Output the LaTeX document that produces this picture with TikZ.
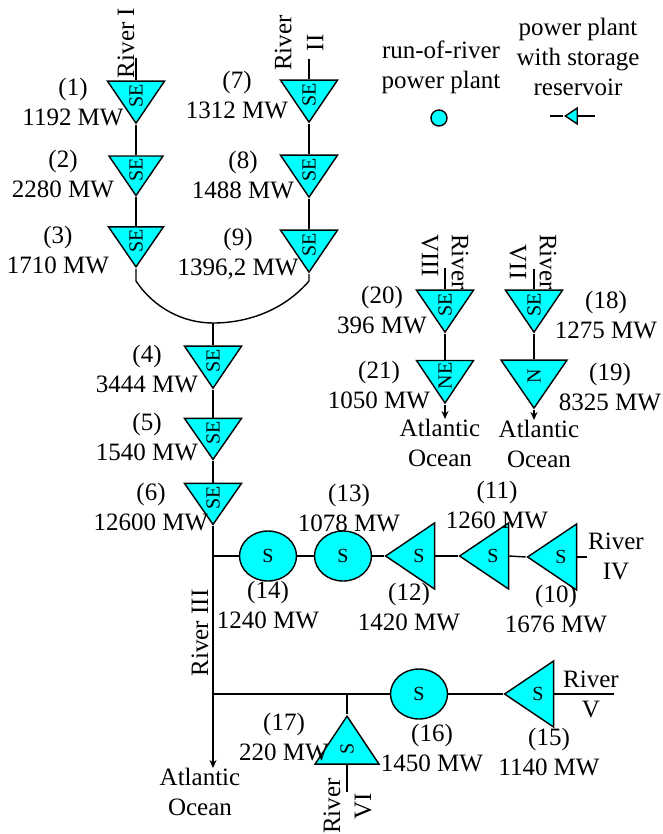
\documentclass[tikz,border=0pt]{standalone}
\usepackage{fontspec}
\setmainfont{Liberation Serif}
\usetikzlibrary{shapes.geometric,arrows.meta}
\definecolor{plantCyan}{RGB}{0,255,255}

\tikzstyle{plantBase} = [isosceles triangle, isosceles triangle stretches, inner sep=0pt, draw=black, fill=plantCyan, line width=1.4pt, font=\fontsize{20}{20}\selectfont]
\tikzstyle{plantDown} = [plantBase, shape border rotate=-90, minimum width=57pt, minimum height=42pt]
\tikzstyle{plantBig} = [plantBase, shape border rotate=-90, minimum width=66pt, minimum height=48pt]
\tikzstyle{plantLeft} = [plantBase, shape border rotate=180, minimum width=66pt, minimum height=49pt]
\tikzstyle{plantUp} = [plantBase, shape border rotate=90, minimum width=64pt, minimum height=48pt]
\tikzstyle{plantRun} = [ellipse, inner sep=0pt, minimum width=57pt, minimum height=50pt, draw=black, fill=plantCyan, line width=1.4pt, font=\fontsize{20}{20}\selectfont]
\tikzstyle{plantLabel} = [align=center, inner sep=0pt]
\tikzstyle{river} = [line width=1.4pt]
\tikzstyle{riverArrow} = [river,->,>={Stealth[length=8pt,width=7pt]}]

\begin{document}
\begin{tikzpicture}[x=1pt, y=-1pt, node distance=72pt, font=\fontsize{25}{30}\selectfont]
    \useasboundingbox (0,0) rectangle (662,834);

    % rivers I, II, III
    \node (p1)[plantDown] at (136,96) {\rotatebox{90}{SE}};
    \node (p2)[plantDown, below of=p1, yshift=-2pt, minimum width=54pt, minimum height=39pt] {\rotatebox{90}{SE}};
    \node (p3)[plantDown, below of=p2, yshift=1pt, minimum width=55pt, minimum height=40pt] {\rotatebox{90}{SE}};
    \node (p7)[plantDown, right of=p1, xshift=101pt, yshift=1pt] {\rotatebox{90}{SE}};
    \node (p8)[plantDown, below of=p7, yshift=-3pt] {\rotatebox{90}{SE}};
    \node (p9)[plantDown, below of=p8, yshift=-3pt] {\rotatebox{90}{SE}};
    \node (p4)[plantDown, below of=p3, xshift=77pt, yshift=-48pt] {\rotatebox{90}{SE}};
    \node (p5)[plantDown, below of=p4, minimum height=41pt] {\rotatebox{90}{SE}};
    \node (p6)[plantDown, below of=p5, yshift=7pt, minimum height=41pt] {\rotatebox{90}{SE}};

    % rivers VII, VIII
    \node (p20)[plantDown] at (445,305) {\rotatebox{90}{SE}};
    \node (p21)[plantDown, below of=p20, yshift=1pt] {\rotatebox{90}{NE}};
    \node (p18)[plantDown, right of=p20, xshift=17pt] {\rotatebox{90}{SE}};
    \node (p19)[plantBig, below of=p18, yshift=1pt] {\rotatebox{90}{N}};

    % river IV
    \node (p14)[plantRun, below of=p6, xshift=55pt, yshift=14pt] {S};
    \node (p13)[plantRun, right of=p14, xshift=3pt] {S};
    \node (p12)[plantLeft, right of=p13, xshift=4pt] {S};
    \node (p11)[plantLeft, right of=p12, xshift=2pt] {S};
    \node (p10)[plantLeft, right of=p11, xshift=-4pt, yshift=-1pt] {S};

    % rivers V, VI
    \node (p16)[plantRun, below of=p12, yshift=-66pt] {S};
    \node (p15)[plantLeft, right of=p16, xshift=47pt] {S};
    \node (p17)[plantUp, left of=p16, yshift=-55pt] {\rotatebox{90}{S}};

    % legend
    \node (legCircle)[plantRun, minimum width=16pt, minimum height=16pt] at (439,118) {};
    \node (legTri)[plantLeft, minimum width=16pt, minimum height=12pt] at (573,116) {};
    \coordinate (legLeft) at (550,116);
    \coordinate (legRight) at (595,116);
    \node (legRun)[plantLabel, above of=legCircle, xshift=2pt, yshift=-21.5pt] {run-of-river\\power plant};
    \node (legStore)[plantLabel, above of=legTri, xshift=5pt, yshift=-12.5pt] {power plant\\with storage\\reservoir};

    % capacities
    \node (lab1)[plantLabel, left of=p1, xshift=9pt, yshift=-6pt] {(1)\\1192 MW};
    \node (lab2)[plantLabel, left of=p2, xshift=-1pt, yshift=-4pt] {(2)\\2280 MW};
    \node (lab3)[plantLabel, left of=p3, xshift=-6pt, yshift=-9pt] {(3)\\1710 MW};
    \node (lab7)[plantLabel, left of=p7] {(7)\\1312 MW};
    \node (lab8)[plantLabel, left of=p8, xshift=6pt, yshift=-5pt] {(8)\\1488 MW};
    \node (lab9)[plantLabel, left of=p9, xshift=1pt, yshift=-9pt] {(9)\\1396,2 MW};
    \node (lab4)[plantLabel, left of=p4, xshift=6pt, yshift=-8pt] {(4)\\3444 MW};
    \node (lab5)[plantLabel, left of=p5, xshift=6pt, yshift=-4.5pt] {(5)\\1540 MW};
    \node (lab6)[plantLabel, left of=p6, xshift=10pt, yshift=-9.5pt] {(6)\\12600 MW};
    \node (lab20)[plantLabel, left of=p20, xshift=9pt, yshift=-5pt] {(20)\\396 MW};
    \node (lab21)[plantLabel, left of=p21, xshift=6pt, yshift=-9pt] {(21)\\1050 MW};
    \node (lab18)[plantLabel, right of=p18, yshift=-10pt] {(18)\\1275 MW};
    \node (lab19)[plantLabel, right of=p19, xshift=4pt, yshift=-11pt] {(19)\\8325 MW};
    \node (lab13)[plantLabel, above of=p13, xshift=6pt, yshift=-24.5pt] {(13)\\1078 MW};
    \node (lab11)[plantLabel, above of=p11, xshift=4pt, yshift=-21pt] {(11)\\1260 MW};
    \node (lab14)[plantLabel, below of=p14, yshift=22.5pt] {(14)\\1240 MW};
    \node (lab12)[plantLabel, below of=p12, xshift=-10pt, yshift=21pt] {(12)\\1420 MW};
    \node (lab10)[plantLabel, below of=p10, xshift=-5pt, yshift=20pt] {(10)\\1676 MW};
    \node (lab16)[plantLabel, below of=p16, xshift=13pt, yshift=17.5pt] {(16)\\1450 MW};
    \node (lab15)[plantLabel, below of=p15, xshift=11pt, yshift=14pt] {(15)\\1140 MW};
    \node (lab17)[plantLabel, left of=p17, xshift=9pt, yshift=12pt] {(17)\\220 MW};

    % river names
    \node (riverI)[plantLabel, rotate=90] at (126,43) {River I};
    \node (riverII)[plantLabel, rotate=90] at (299,43) {River\\[2pt]II};
    \node (riverIII)[plantLabel, rotate=90] at (200,633) {River III};
    \node (riverIV)[plantLabel, right of=p10, xshift=-17pt, yshift=0.5pt] {River\\IV};
    \node (riverV)[plantLabel, right of=p15, xshift=-19pt, yshift=-0.5pt] {River\\V};
    \node (riverVI)[plantLabel, rotate=90] at (347.5,806) {River\\[1pt]VI};
    \node (riverVII)[plantLabel, rotate=-90] at (533,262) {River\\VII};
    \node (riverVIII)[plantLabel, rotate=-90, align=left] at (445,262) {River\\VIII};

    % oceans
    \node (oceanA)[plantLabel, below of=p21, xshift=-5pt, yshift=5pt] {Atlantic\\Ocean};
    \node (oceanB)[plantLabel, below of=p19, xshift=5pt, yshift=4pt] {Atlantic\\Ocean};
    \node (oceanC)[plantLabel] at (200,791.5) {Atlantic\\Ocean};

    % free line ends
    \coordinate (topI) at (136,58);
    \coordinate (topII) at (309,59);
    \coordinate (topVIII) at (445,268);
    \coordinate (topVII) at (534,269);
    \coordinate (endIV) at (587,557);
    \coordinate (endV) at (614,694);
    \coordinate (endVI) at (347,792);
    \coordinate (seaMain) at (213,768);
    \coordinate (seaVIII) at (445,419);
    \coordinate (seaVII) at (534,420);
    \coordinate (bendI) at (136,281);
    \coordinate (bendII) at (309,281);
    \coordinate (joinIII) at (213,323);

    \draw [river] (topI) -- (p1.lower side);
    \draw [river] (p1.apex) -- (p2.lower side);
    \draw [river] (p2.apex) -- (p3.lower side);
    \draw [river] (topII) -- (p7.lower side);
    \draw [river] (p7.apex) -- (p8.lower side);
    \draw [river] (p8.apex) -- (p9.lower side);
    \draw [river] (p3.apex) -- (bendI) .. controls (154,308) and (183,323) .. (joinIII) .. controls (251,323) and (286,308) .. (bendII) -- (p9.apex);
    \draw [river] (joinIII) -- (p4.lower side);
    \draw [river] (p4.apex) -- (p5.lower side);
    \draw [river] (p5.apex) -- (p6.lower side);
    \draw [riverArrow] (p6.apex) -- (seaMain);
    \draw [river] (p14.west) -- (p14.west -| p6.apex);
    \draw [river] (p14) -- (p13);
    \draw [river] (p13.east) -- (p12.apex);
    \draw [river] (p12.lower side) -- (p11.apex);
    \draw [river] (p11.lower side) -- (p10.apex);
    \draw [river] (p10.lower side) -- (endIV);
    \draw [river] (p16.west) -- (p16.west -| p6.apex);
    \draw [river] (p16.east) -- (p15.apex);
    \draw [river] (p15.lower side) -- (endV);
    \draw [river] (p17.apex) -- (p17.apex |- p16.west);
    \draw [river] (p17.lower side) -- (endVI);
    \draw [river] (topVIII) -- (p20.lower side);
    \draw [river] (p20.apex) -- (p21.lower side);
    \draw [riverArrow] (p21.apex) -- (seaVIII);
    \draw [river] (topVII) -- (p18.lower side);
    \draw [river] (p18.apex) -- (p19.lower side);
    \draw [riverArrow] (p19.apex) -- (seaVII);
    \draw [river] (legLeft) -- (legTri.apex);
    \draw [river] (legTri.lower side) -- (legRight);
\end{tikzpicture}
\end{document}
